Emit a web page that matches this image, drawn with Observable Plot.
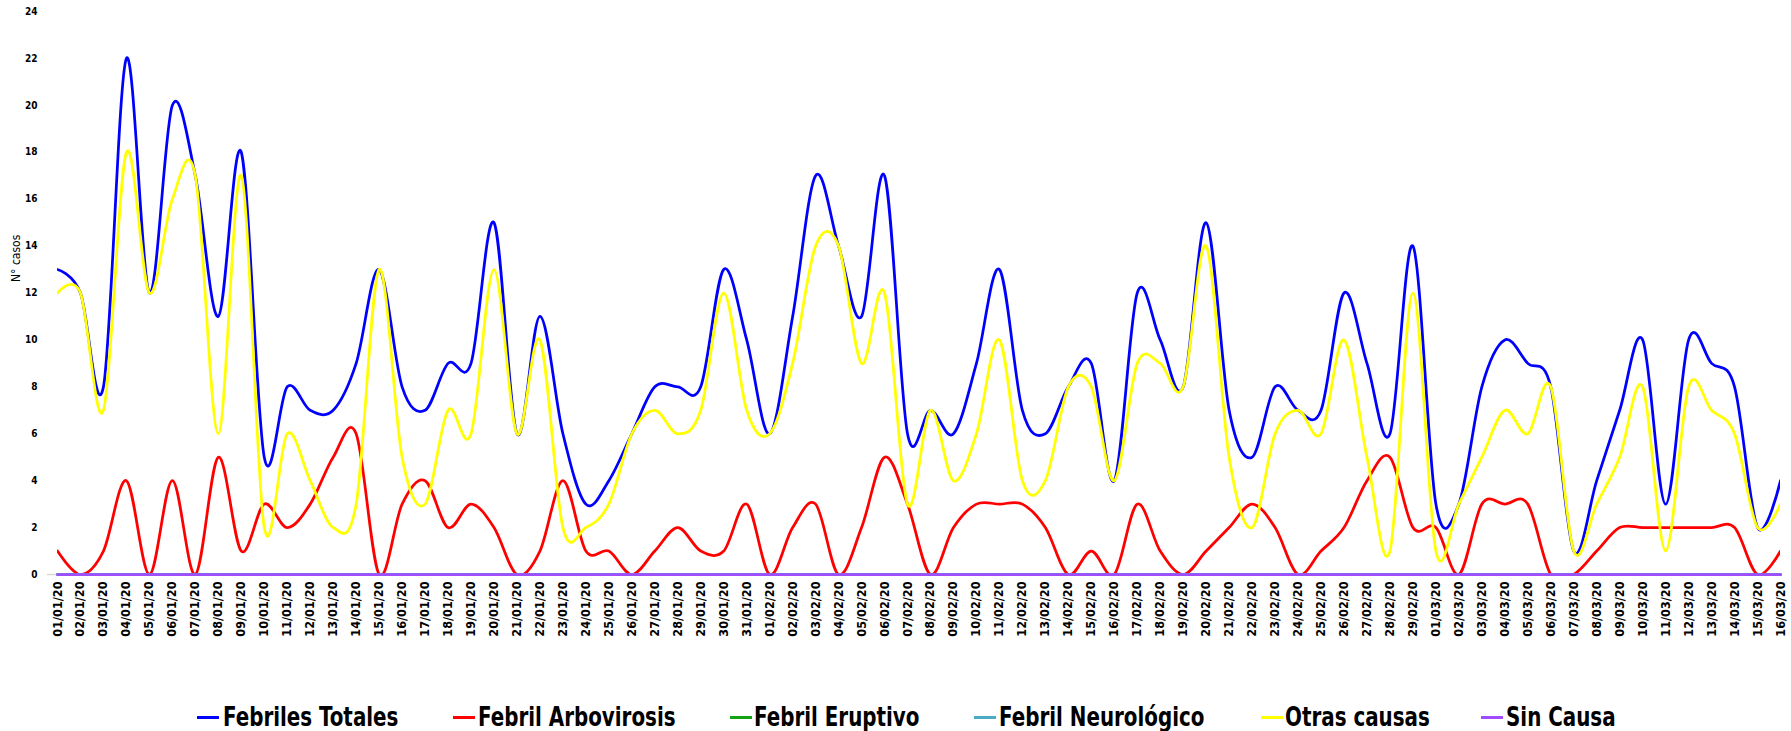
<!DOCTYPE html>
<html>
<head>
<meta charset="utf-8">
<script src="https://cdn.jsdelivr.net/npm/d3@7"></script>
<script src="https://cdn.jsdelivr.net/npm/@observablehq/plot@0.6"></script>
<style>
  html, body { margin: 0; padding: 0; background: #fff; }
  #wrap { position: relative; width: 1791px; height: 731px; overflow: hidden; }
  .lg-sw { position: absolute; height: 3px; width: 22px; }
  .lg-tx { position: absolute; font-family: "Liberation Sans Narrow", "DejaVu Sans Condensed", "Arial Narrow", sans-serif; font-weight: bold; font-size: 26px; line-height: 26px; color: #000; white-space: nowrap; transform: scaleX(0.85); transform-origin: 0 50%; }
</style>
</head>
<body>
<div id="wrap"></div>
<script>
const dates = [
  "01/01/20","02/01/20","03/01/20","04/01/20","05/01/20","06/01/20","07/01/20","08/01/20","09/01/20","10/01/20",
  "11/01/20","12/01/20","13/01/20","14/01/20","15/01/20","16/01/20","17/01/20","18/01/20","19/01/20","20/01/20",
  "21/01/20","22/01/20","23/01/20","24/01/20","25/01/20","26/01/20","27/01/20","28/01/20","29/01/20","30/01/20",
  "31/01/20",
  "01/02/20","02/02/20","03/02/20","04/02/20","05/02/20","06/02/20","07/02/20","08/02/20","09/02/20","10/02/20",
  "11/02/20","12/02/20","13/02/20","14/02/20","15/02/20","16/02/20","17/02/20","18/02/20","19/02/20","20/02/20",
  "21/02/20","22/02/20","23/02/20","24/02/20","25/02/20","26/02/20","27/02/20","28/02/20","29/02/20",
  "01/03/20","02/03/20","03/03/20","04/03/20","05/03/20","06/03/20","07/03/20","08/03/20","09/03/20","10/03/20",
  "11/03/20","12/03/20","13/03/20","14/03/20","15/03/20","16/03/20"
];

const febrilesTotales = [
  13,12,8,22,12,20,17,11,18,5, 8,7,7,9,13,8,7,9,9,15, 6,11,6,3,4,6,8,8,8,13, 10,
  6,11,17,14,11,17,6,7,6,9, 13,7,6,8,9,4,12,10,8,15, 7,5,8,7,7,12,9,6,14,
  3,3,8,10,9,8,1,4,7,10, 3,10,9,8,2,4
];
const febrilArbovirosis = [
  1,0,1,4,0,4,0,5,1,3, 2,3,5,6,0,3,4,2,3,2, 0,1,4,1,1,0,1,2,1,1, 3,
  0,2,3,0,2,5,3,0,2,3, 3,3,2,0,1,0,3,1,0,1, 2,3,2,0,1,2,4,5,2,
  2,0,3,3,3,0,0,1,2,2, 2,2,2,2,0,1
];
const febrilEruptivo = [
  0,0,0,0,0,0,0,0,0,0, 0,0,0,0,0,0,0,0,0,0, 0,0,0,0,0,0,0,0,0,0, 0,
  0,0,0,0,0,0,0,0,0,0, 0,0,0,0,0,0,0,0,0,0, 0,0,0,0,0,0,0,0,0,
  0,0,0,0,0,0,0,0,0,0, 0,0,0,0,0,0
];
const febrilNeurologico = [
  0,0,0,0,0,0,0,0,0,0, 0,0,0,0,0,0,0,0,0,0, 0,0,0,0,0,0,0,0,0,0, 0,
  0,0,0,0,0,0,0,0,0,0, 0,0,0,0,0,0,0,0,0,0, 0,0,0,0,0,0,0,0,0,
  0,0,0,0,0,0,0,0,0,0, 0,0,0,0,0,0
];
const otrasCausas = [
  12,12,7,18,12,16,17,6,17,2, 6,4,2,3,13,5,3,7,6,13, 6,10,2,2,3,6,7,6,7,12, 7,
  6,9,14,14,9,12,3,7,4,6, 10,4,4,8,8,4,9,9,8,14, 5,2,6,7,6,10,5,1,12,
  1,3,5,7,6,8,1,3,5,8, 1,8,7,6,2,3
];
const sinCausa = [
  0,0,0,0,0,0,0,0,0,0, 0,0,0,0,0,0,0,0,0,0, 0,0,0,0,0,0,0,0,0,0, 0,
  0,0,0,0,0,0,0,0,0,0, 0,0,0,0,0,0,0,0,0,0, 0,0,0,0,0,0,0,0,0,
  0,0,0,0,0,0,0,0,0,0, 0,0,0,0,0,0
];

const seriesNames = ["Febriles Totales","Febril Arbovirosis","Febril Eruptivo","Febril Neurológico","Otras causas","Sin Causa"];
const seriesColors = ["#0000ff","#ff0000","#13a313","#4bacc6","#ffff00","#9f4dff"];
const yTicks = [0,2,4,6,8,10,12,14,16,18,20,22,24];

const seriesValues = [febrilesTotales, febrilArbovirosis, febrilEruptivo, febrilNeurologico, otrasCausas, sinCausa];
const rows = [];
seriesNames.forEach((name, s) => {
  dates.forEach((d, i) => rows.push({date: d, value: seriesValues[s][i], series: name}));
});

const FONT = '"Liberation Sans Narrow", "DejaVu Sans Condensed", "Arial Narrow", sans-serif';
const zeroSeries = new Set(["Febril Eruptivo","Febril Neurológico","Sin Causa"]);

const chart = Plot.plot({
  width: 1791,
  height: 660,
  marginLeft: 57,
  marginRight: 11,
  marginTop: 11,
  marginBottom: 86,
  style: {fontFamily: FONT, color: "#000", background: "#fff"},
  x: {type: "point", domain: dates, padding: 0},
  y: {domain: [0, 24]},
  color: {domain: seriesNames, range: seriesColors},
  marks: [
    Plot.ruleY([0], {stroke: "#d9d9d9", strokeWidth: 1.5, insetLeft: -10}),
    Plot.axisY({ticks: yTicks, tickSize: 0, tickPadding: 20, label: null, fontSize: 10, fontWeight: "bold"}),
    Plot.axisX({tickRotate: -90, tickSize: 0, tickPadding: 7, label: null, fontSize: 12.5, fontWeight: "bold"}),
    Plot.text(["N° casos"], {frameAnchor: "left", dx: -41, dy: -11, rotate: -90, fontSize: 12, fill: "#000"}),
    ...seriesNames.map(name => Plot.line(rows.filter(r => r.series === name), {
      x: "date", y: "value", stroke: "series", strokeWidth: 2.75, curve: "cardinal", tension: 0,
      clip: zeroSeries.has(name) ? false : "frame"
    }))
  ]
});

const wrap = document.getElementById("wrap");
wrap.appendChild(chart);

const legendSwatchX = [197, 453, 730, 974, 1261, 1481];
const legendTextX = [223, 478, 754, 999, 1285, 1506];
seriesNames.forEach((name, i) => {
  const sw = document.createElement("div");
  sw.className = "lg-sw";
  sw.style.left = legendSwatchX[i] + "px";
  sw.style.top = "716px";
  sw.style.background = seriesColors[i];
  wrap.appendChild(sw);
  const tx = document.createElement("div");
  tx.className = "lg-tx";
  tx.style.left = legendTextX[i] + "px";
  tx.style.top = "704px";
  tx.textContent = name;
  wrap.appendChild(tx);
});
</script>
</body>
</html>
